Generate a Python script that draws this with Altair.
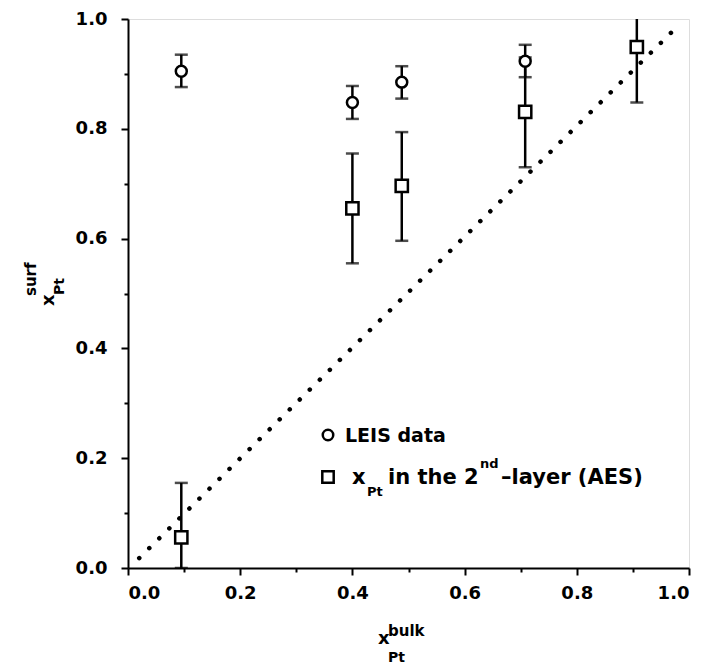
import altair as alt
import pandas as pd

# LEIS data (circles)
leis_x = [0.095, 0.400, 0.488, 0.708]
leis_y = [0.905, 0.848, 0.885, 0.923]
leis_lo = [0.876, 0.818, 0.855, 0.894]
leis_hi = [0.935, 0.878, 0.914, 0.953]

# x_Pt in the 2nd layer (AES) (squares)
aes_x = [0.095, 0.400, 0.488, 0.708, 0.907]
aes_y = [0.056, 0.655, 0.696, 0.831, 0.949]
aes_lo = [0.000, 0.555, 0.596, 0.730, 0.848]
aes_hi = [0.155, 0.755, 0.794, 0.930, 1.049]

# dotted diagonal
diag_x = [0.02, 0.98]
diag_y = [0.018, 0.987]

tick_values = [0.0, 0.1, 0.2, 0.3, 0.4, 0.5, 0.6, 0.7, 0.8, 0.9, 1.0]

FONT = "DejaVu Sans"

leis = pd.DataFrame({"x": leis_x, "y": leis_y, "lo": leis_lo, "hi": leis_hi})
aes = pd.DataFrame({"x": aes_x, "y": aes_y, "lo": aes_lo, "hi": aes_hi})
diag = pd.DataFrame({"x": diag_x, "y": diag_y})

even = "round(datum.value*10) % 2 == 0"
xscale = alt.Scale(domain=[0, 1], nice=False, zero=False)
yscale = alt.Scale(domain=[0, 1], nice=False, zero=False)

def ax(pad):
    return alt.Axis(
        values=tick_values,
        labelExpr=f"{even} ? format(datum.value, '.1f') : ''",
        title=None,
        grid=False,
        domainColor="black",
        domainWidth=2,
        tickColor="black",
        tickWidth=2,
        tickSize={"condition": {"test": even, "value": 7}, "value": 4},
        labelPadding=pad,
        labelFont=FONT,
        labelFontWeight="bold",
        labelFontSize=18,
        labelColor="black",
    )

X = alt.X("x:Q", scale=xscale, axis=ax(9))
Y = alt.Y("y:Q", scale=yscale, axis=ax(14))

diag_line = alt.Chart(diag).mark_line(
    color="black", strokeWidth=4.5, strokeDash=[0.1, 14], strokeCap="round"
).encode(x=X, y=Y)

def bars(df):
    rule = alt.Chart(df).mark_rule(color="black", strokeWidth=2.5, clip=True).encode(
        x=alt.X("x:Q", scale=xscale), y=alt.Y("lo:Q", scale=yscale), y2="hi:Q"
    )
    cap_lo = alt.Chart(df).mark_tick(
        color="black", orient="horizontal", size=13, thickness=2.5, clip=True
    ).encode(x=alt.X("x:Q", scale=xscale), y=alt.Y("lo:Q", scale=yscale))
    cap_hi = alt.Chart(df).mark_tick(
        color="black", orient="horizontal", size=13, thickness=2.5, clip=True
    ).encode(x=alt.X("x:Q", scale=xscale), y=alt.Y("hi:Q", scale=yscale))
    return rule + cap_lo + cap_hi

leis_pts = alt.Chart(leis).mark_point(
    shape="circle", size=120, filled=True, fill="white", stroke="black", strokeWidth=2.5, opacity=1
).encode(x=alt.X("x:Q", scale=xscale), y=alt.Y("y:Q", scale=yscale))

aes_pts = alt.Chart(aes).mark_point(
    shape="square", size=150, filled=True, fill="white", stroke="black", strokeWidth=2.5, opacity=1
).encode(x=alt.X("x:Q", scale=xscale), y=alt.Y("y:Q", scale=yscale))

# legend symbols (pixel positions inside plot)
leg_circle = alt.Chart(pd.DataFrame({"k": [0]})).mark_point(
    shape="circle", size=110, filled=True, fill="white", stroke="black", strokeWidth=2.5, opacity=1
).encode(x=alt.value(200), y=alt.value(416))
leg_square = alt.Chart(pd.DataFrame({"k": [0]})).mark_point(
    shape="square", size=130, filled=True, fill="white", stroke="black", strokeWidth=2.5, opacity=1
).encode(x=alt.value(200), y=alt.value(458))

def txt(s, px, py, size=18, angle=0):
    return alt.Chart(pd.DataFrame({"t": [s]})).mark_text(
        font=FONT, fontWeight="bold", fontSize=size, color="black",
        align="left", baseline="alphabetic", angle=angle,
    ).encode(text="t:N", x=alt.value(px), y=alt.value(py))

texts = [
    txt("LEIS data", 217, 423, size=19),
    txt("x", 224, 465, size=21),
    txt("Pt", 239, 477, size=13),
    txt("in the 2", 260, 465, size=21),
    txt("nd", 352, 449, size=13),
    txt("\u2013layer (AES)", 373, 465, size=21),
    # x title
    txt("x", 250, 625, size=18),
    txt("bulk", 260, 617, size=15),
    txt("Pt", 260, 643, size=14),
    # y title (rotated)
    txt("x", -74, 287, size=18, angle=270),
    txt("Pt", -64, 276, size=14, angle=270),
    txt("surf", -92, 277, size=15, angle=270),
]

chart = alt.layer(
    diag_line, bars(leis), bars(aes), leis_pts, aes_pts, leg_circle, leg_square, *texts
).properties(
    width=561, height=549,
    autosize=alt.AutoSizeParams(type="none"),
    padding={"left": 120, "top": 11, "right": 10, "bottom": 96},
).configure_view(stroke="black", strokeWidth=2).configure(background="white")

chart.save("out.html", embed_options={"renderer": "svg", "actions": False})
